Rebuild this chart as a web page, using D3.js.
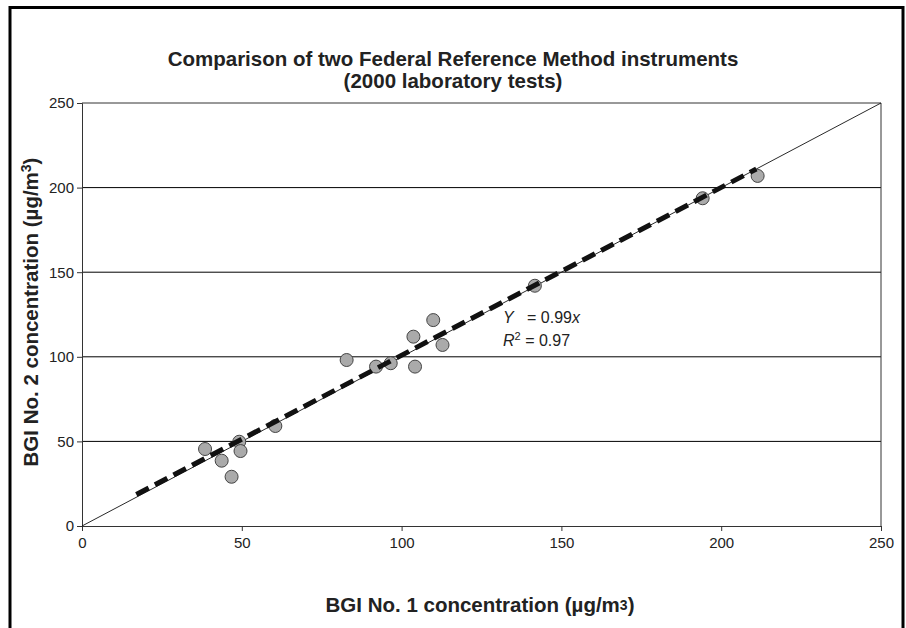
<!DOCTYPE html>
<html>
<head>
<meta charset="utf-8">
<script src="https://cdn.jsdelivr.net/npm/d3@7"></script>
<style>
  body { margin: 0; background: #fff; }
  svg { display: block; font-family: "Liberation Sans", Arial, sans-serif; }
  .tick text { font-size: 15px; fill: #222; }
</style>
</head>
<body>
<div id="chart"></div>
<script>
// Chart size
const WIDTH = 906;
const HEIGHT = 628;
const margin = { left: 82, right: 25, top: 103, bottom: 102 };

// Data (µg/m3)
const bgi1 = [38.5, 43.7, 46.8, 49.2, 49.6, 60.5, 82.8, 92, 96.6, 104.2, 103.7, 109.9, 112.8, 141.7, 194.2, 211.4];
const bgi2 = [45.5, 38.6, 29.1, 49.8, 44.3, 59.1, 98.1, 94.2, 96.2, 94.2, 111.9, 121.7, 107, 142, 193.7, 206.9];

// Regression line ends and 1:1 line
const fitX = [17, 211];
const fitY = [18.6, 211];
const oneToOne = [0, 250];

const ticks = [0, 50, 100, 150, 200, 250];
const gridTicks = [50, 100, 150, 200];

var svg = d3
  .select("#chart")
  .append("svg")
  .attr("width", WIDTH)
  .attr("height", HEIGHT);

// Outer frame
svg
  .append("rect")
  .attr("x", 10)
  .attr("y", 7.5)
  .attr("width", 893)
  .attr("height", 640)
  .attr("fill", "none")
  .attr("stroke", "#000")
  .attr("stroke-width", 3);

const xScale = d3
  .scaleLinear()
  .domain([0, 250])
  .range([margin.left, WIDTH - margin.right]);

const yScale = d3
  .scaleLinear()
  .domain([0, 250])
  .range([HEIGHT - margin.bottom, margin.top]);

// Grid lines
svg
  .selectAll(".grid")
  .data(gridTicks)
  .enter()
  .append("line")
  .attr("class", "grid")
  .attr("x1", xScale(0))
  .attr("x2", xScale(250))
  .attr("y1", (d) => yScale(d))
  .attr("y2", (d) => yScale(d))
  .attr("stroke", "#000")
  .attr("stroke-width", 1);

// Plot box (top and right)
svg
  .append("path")
  .attr("d", `M${xScale(0)},${yScale(250)}H${xScale(250)}V${yScale(0)}`)
  .attr("fill", "none")
  .attr("stroke", "#333")
  .attr("stroke-width", 1);

// Axes
const xAxis = d3.axisBottom(xScale).tickValues(ticks).tickSize(5).tickPadding(6);
const yAxis = d3.axisLeft(yScale).tickValues(ticks).tickSize(5).tickPadding(3);

svg
  .append("g")
  .attr("transform", `translate(0, ${yScale(0)})`)
  .call(xAxis)
  .call((g) => g.select(".domain").attr("stroke", "#333"))
  .call((g) => g.selectAll(".tick line").attr("stroke", "#333"));

svg
  .append("g")
  .attr("transform", `translate(${xScale(0)}, 0)`)
  .call(yAxis)
  .call((g) => g.select(".domain").attr("stroke", "#333"))
  .call((g) => g.selectAll(".tick line").attr("stroke", "#333"));

// 1:1 line
svg
  .append("line")
  .attr("x1", xScale(oneToOne[0]))
  .attr("y1", yScale(oneToOne[0]))
  .attr("x2", xScale(oneToOne[1]))
  .attr("y2", yScale(oneToOne[1]))
  .attr("stroke", "#111")
  .attr("stroke-width", 0.9);

// Points
svg
  .selectAll(".pt")
  .data(bgi1)
  .enter()
  .append("circle")
  .attr("class", "pt")
  .attr("cx", (d) => xScale(d))
  .attr("cy", (d, i) => yScale(bgi2[i]))
  .attr("r", 6.5)
  .attr("fill", "#aaaaaa")
  .attr("stroke", "#444")
  .attr("stroke-width", 1);

// Regression (dashed)
svg
  .append("line")
  .attr("x1", xScale(fitX[0]))
  .attr("y1", yScale(fitY[0]))
  .attr("x2", xScale(fitX[1]))
  .attr("y2", yScale(fitY[1]))
  .attr("stroke", "#111")
  .attr("stroke-width", 5)
  .attr("stroke-dasharray", "14,7");

// Equation
const eq = svg.append("g").attr("font-size", 16).attr("fill", "#222");
const l1 = eq.append("text").attr("x", 503).attr("y", 323);
l1.append("tspan").attr("font-style", "italic").text("Y");
l1.append("tspan").attr("x", 527).text("= 0.99");
l1.append("tspan").attr("font-style", "italic").text("x");
const l2 = eq.append("text").attr("x", 503).attr("y", 346);
l2.append("tspan").attr("font-style", "italic").text("R");
l2.append("tspan").attr("font-size", 11).attr("dy", -6).text("2");
l2.append("tspan").attr("dy", 6).text(" = 0.97");

// Title
svg
  .append("text")
  .attr("x", 453)
  .attr("y", 66)
  .attr("text-anchor", "middle")
  .attr("font-size", 20.5)
  .attr("font-weight", "bold")
  .attr("fill", "#222")
  .text("Comparison of two Federal Reference Method instruments");

svg
  .append("text")
  .attr("x", 453)
  .attr("y", 88)
  .attr("text-anchor", "middle")
  .attr("font-size", 20.5)
  .attr("font-weight", "bold")
  .attr("fill", "#222")
  .text("(2000 laboratory tests)");

// Axis labels
const xt = svg
  .append("text")
  .attr("x", 480)
  .attr("y", 612)
  .attr("text-anchor", "middle")
  .attr("font-size", 20.5)
  .attr("font-weight", "bold")
  .attr("fill", "#222")
  .text("BGI No. 1 concentration (µg/m");
xt.append("tspan").attr("font-size", 14).attr("dy", -2).text("3");
xt.append("tspan").attr("dy", 2).text(")");

const yt = svg
  .append("text")
  .attr("transform", "rotate(-90)")
  .attr("x", -312)
  .attr("y", 38)
  .attr("text-anchor", "middle")
  .attr("font-size", 20.5)
  .attr("font-weight", "bold")
  .attr("fill", "#222")
  .text("BGI No. 2 concentration (µg/m");
yt.append("tspan").attr("font-size", 14).attr("dy", -7).text("3");
yt.append("tspan").attr("dy", 7).text(")");
</script>
</body>
</html>
